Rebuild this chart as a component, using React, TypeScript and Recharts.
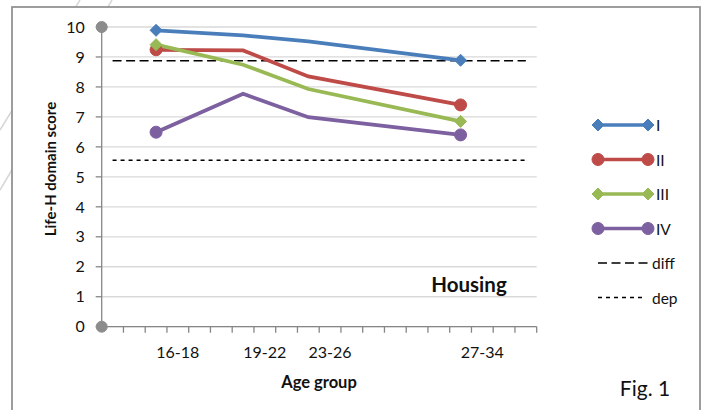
import { ComposedChart, Line, XAxis, YAxis, CartesianGrid, Customized } from "recharts";

const FONT = "Lato, 'Noto Sans', sans-serif";
const AXIS_GRAY = "#868686";

// age groups, where each group's points sit and where its label is written
const ageGroups = ["16-18", "19-22", "23-26", "27-34"];
const groupX = [2.5, 6.5, 9.5, 16.5];
const labelX = [3.5, 7.5, 10.5, 17.5];
const minorTicks = [1, 2, 3, 4, 5, 6, 7, 8, 9, 10, 11, 12, 13, 14, 15, 16, 17, 18, 19, 20];
const scoreTicks = [0, 1, 2, 3, 4, 5, 6, 7, 8, 9, 10];

// Life-H housing scores per group
const scoresI = [9.89, 9.72, 9.52, 8.89];
const scoresII = [9.24, 9.22, 8.35, 7.4];
const scoresIII = [9.41, 8.74, 7.93, 6.85];
const scoresIV = [6.49, 7.77, 6.99, 6.4];

// reference levels
const diffLevel = 8.87;
const depLevel = 5.55;
const refSpan = [0.5, 19.5];
const axisEnds = [0, 10];

const seriesDefs = [
  { key: "I", values: scoresI, color: "#4A7EBB", marker: "diamond" },
  { key: "II", values: scoresII, color: "#BE4B48", marker: "circle" },
  { key: "III", values: scoresIII, color: "#98B954", marker: "diamond" },
  { key: "IV", values: scoresIV, color: "#7D60A0", marker: "circle" },
];

const rows = groupX.map((x, i) => {
  const row: Record<string, number> = { x };
  seriesDefs.forEach((s) => (row[s.key] = s.values[i]));
  return row;
});
const diffRows = refSpan.map((x) => ({ x, y: diffLevel }));
const depRows = refSpan.map((x) => ({ x, y: depLevel }));
const endRows = axisEnds.map((y) => ({ x: 0, y }));

function Marker({ cx, cy, color, shape }: { cx: number; cy: number; color: string; shape: string }) {
  if (shape === "diamond") {
    return (
      <polygon
        points={`${cx},${cy - 6} ${cx + 6},${cy} ${cx},${cy + 6} ${cx - 6},${cy}`}
        fill={color}
        stroke={color}
      />
    );
  }
  return <circle cx={cx} cy={cy} r={6} fill={color} stroke={color} />;
}

// markers only on the first and last point of each line
const endDot = (color: string, shape: string) => (props: any) => {
  const { cx, cy, index } = props;
  if (index !== 0 && index !== groupX.length - 1) return <g key={index} />;
  return (
    <g key={index}>
      <Marker cx={cx} cy={cy} color={color} shape={shape} />
    </g>
  );
};

function AgeTick(props: any) {
  const { x, y, payload } = props;
  const idx = labelX.indexOf(payload.value);
  if (idx >= 0) {
    return (
      <text x={x} y={y + 25} textAnchor="middle" dominantBaseline="central" fontSize={16} fill="#111" fontFamily={FONT}>
        {ageGroups[idx]}
      </text>
    );
  }
  return <line x1={x} x2={x} y1={y} y2={y + 6} stroke={AXIS_GRAY} strokeWidth={1.3} />;
}

function Annotations() {
  const legendY = 125;
  const step = 34.5;
  return (
    <g fontFamily={FONT}>
      <text x={469} y={284} textAnchor="middle" dominantBaseline="central" fontSize={20.5} fontWeight="bold" fill="#111">
        Housing
      </text>
      <text x={319} y={382} textAnchor="middle" dominantBaseline="central" fontSize={16.5} fontWeight="bold" fill="#111">
        Age group
      </text>
      <text
        x={50}
        y={169}
        transform="rotate(-90 50 169)"
        textAnchor="middle"
        dominantBaseline="central"
        fontSize={15}
        fontWeight="bold"
        fill="#111"
      >
        Life-H domain score
      </text>
      <text x={645} y={387} textAnchor="middle" dominantBaseline="central" fontSize={21} fill="#111">
        Fig. 1
      </text>
      {seriesDefs.map((s, i) => {
        const ly = legendY + i * step;
        return (
          <g key={s.key}>
            <line x1={598} x2={648} y1={ly} y2={ly} stroke={s.color} strokeWidth={3.5} />
            <Marker cx={598} cy={ly} color={s.color} shape={s.marker} />
            <Marker cx={648} cy={ly} color={s.color} shape={s.marker} />
            <text x={656} y={ly} dominantBaseline="central" fontSize={15.5} fill="#111">
              {s.key}
            </text>
          </g>
        );
      })}
      <line x1={598} x2={648} y1={legendY + 4 * step} y2={legendY + 4 * step} stroke="#000" strokeWidth={1.5} strokeDasharray="9 4.5" />
      <text x={652} y={legendY + 4 * step} dominantBaseline="central" fontSize={15.5} fill="#111">
        diff
      </text>
      <line x1={598} x2={642} y1={legendY + 5 * step} y2={legendY + 5 * step} stroke="#000" strokeWidth={1.5} strokeDasharray="4 4" />
      <text x={652} y={legendY + 5 * step} dominantBaseline="central" fontSize={15.5} fill="#111">
        dep
      </text>
    </g>
  );
}

export default function App() {
  return (
    <div style={{ position: "absolute", left: 0, top: 0, width: 704, height: 410, background: "#fff", fontFamily: FONT }}>
      <svg width={704} height={410} style={{ position: "absolute", left: 0, top: 0 }}>
        <line x1={80} y1={0} x2={0} y2={130} stroke="#d6d6d6" strokeWidth={1.5} />
        <line x1={112} y1={0} x2={0} y2={190} stroke="#d6d6d6" strokeWidth={1.5} />
        <rect x={12} y={7} width={688} height={420} fill="#fff" stroke="#939393" strokeWidth={1.8} />
      </svg>
      <div style={{ position: "absolute", left: 0, top: 0 }}>
        <ComposedChart width={704} height={410} margin={{ top: 27, right: 167.3, bottom: 53.3, left: 41.7 }}>
          <CartesianGrid vertical={false} stroke="#d9d9d9" strokeWidth={1.3} />
          <XAxis
            dataKey="x"
            type="number"
            domain={[0, 20]}
            ticks={[...minorTicks, ...labelX].sort((a, b) => a - b)}
            interval={0}
            tick={<AgeTick />}
            tickLine={false}
            tickSize={0}
            tickMargin={0}
            height={30}
            stroke={AXIS_GRAY}
            strokeWidth={1.3}
          />
          <YAxis
            type="number"
            domain={[0, 10]}
            ticks={scoreTicks}
            interval={0}
            width={60}
            tickSize={6}
            tickMargin={11}
            stroke={AXIS_GRAY}
            strokeWidth={1.3}
            tick={{ fontSize: 16, fill: "#111", fontFamily: FONT }}
          />
          <Line data={diffRows} dataKey="y" stroke="#000" strokeWidth={1.5} strokeDasharray="9 4.5" dot={false} isAnimationActive={false} />
          <Line data={depRows} dataKey="y" stroke="#000" strokeWidth={1.5} strokeDasharray="4 4" dot={false} isAnimationActive={false} />
          {seriesDefs.map((s) => (
            <Line
              key={s.key}
              data={rows}
              dataKey={s.key}
              stroke={s.color}
              strokeWidth={3.8}
              dot={endDot(s.color, s.marker)}
              activeDot={false}
              isAnimationActive={false}
            />
          ))}
          <Line
            data={endRows}
            dataKey="y"
            stroke="none"
            dot={{ r: 5.5, fill: "#8c8c8c", stroke: "#8c8c8c" }}
            isAnimationActive={false}
          />
          <Customized component={Annotations} />
        </ComposedChart>
      </div>
    </div>
  );
}
